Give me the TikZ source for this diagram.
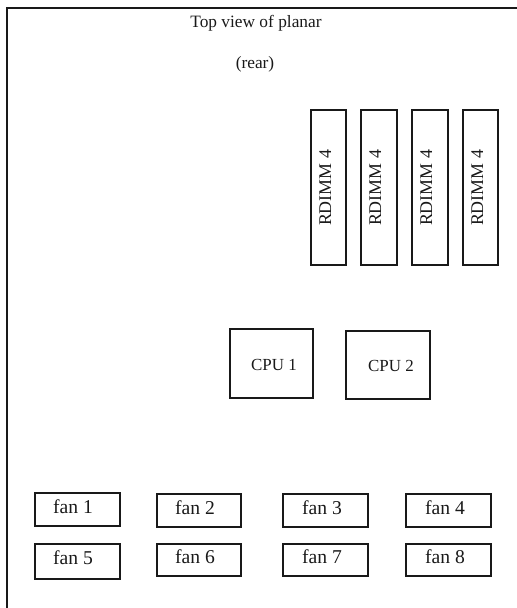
\documentclass[tikz,border=0pt]{standalone}
\usepackage{fontspec}
\setmainfont{Liberation Serif}
\newcommand{\pxbox}[5]{%
  \pgfmathsetmacro{\bw}{(#4-#2)*0.75}\pgfmathsetmacro{\bh}{(#5-#3)*0.75}%
  \node[partbox,minimum width=\bw pt,minimum height=\bh pt] (#1) at ({(#2+#4)/2},{(#3+#5)/2}) {};}
\tikzset{
  partbox/.style={draw=black!90,line width=1.05pt,inner sep=0pt,outer sep=0pt,fill=none},
  frameline/.style={draw=black!90,line width=1.25pt},
  toptext/.style={anchor=base,inner sep=0pt,text=black!90,font=\fontsize{13}{15}\selectfont},
  cputext/.style={anchor=base,inner sep=0pt,text=black!90,font=\fontsize{12.7}{15}\selectfont},
  fantext/.style={anchor=base,inner sep=0pt,text=black!90,font=\fontsize{14.7}{16}\selectfont},
  ramtext/.style={anchor=base,rotate=90,inner sep=0pt,text=black!90,font=\fontsize{13.4}{15}\selectfont},
}
\begin{document}
\begin{tikzpicture}[x=0.75pt,y=-0.75pt]
\useasboundingbox (0,0) rectangle (517,608);
\coordinate (frameB) at (7,608);
\coordinate (frameC) at (7,8);
\coordinate (frameR) at (517,8);
\draw[frameline] (frameB) -- (frameC) -- (frameR);
\node[toptext] (title) at (256,27) {Top view of planar};
\node[toptext] (rear) at (255,68) {(rear)};
\pxbox{r1}{311}{110}{346}{265}
\pxbox{r2}{361}{110}{397}{265}
\pxbox{r3}{412}{110}{448}{265}
\pxbox{r4}{463}{110}{498}{265}
\node[ramtext] (r1t) at (331,188) {RDIMM 4};
\node[ramtext] (r2t) at (381,188) {RDIMM 4};
\node[ramtext] (r3t) at (432,188) {RDIMM 4};
\node[ramtext] (r4t) at (483,188) {RDIMM 4};
\pxbox{c1}{230}{329}{313}{398}
\pxbox{c2}{346}{331}{430}{399}
\node[cputext] (c1t) at (274,370) {CPU 1};
\node[cputext] (c2t) at (391,371) {CPU 2};
\pxbox{f1}{35}{493}{120}{526}
\pxbox{f2}{157}{494}{241}{527}
\pxbox{f3}{283}{494}{368}{527}
\pxbox{f4}{406}{494}{491}{527}
\pxbox{f5}{35}{544}{120}{579}
\pxbox{f6}{157}{544}{241}{576}
\pxbox{f7}{283}{544}{368}{576}
\pxbox{f8}{406}{544}{491}{576}
\node[fantext] (f1t) at (73,513) {fan 1};
\node[fantext] (f2t) at (195,514) {fan 2};
\node[fantext] (f3t) at (322,514) {fan 3};
\node[fantext] (f4t) at (445,514) {fan 4};
\node[fantext] (f5t) at (73,564) {fan 5};
\node[fantext] (f6t) at (195,563) {fan 6};
\node[fantext] (f7t) at (322,563) {fan 7};
\node[fantext] (f8t) at (445,563) {fan 8};
\end{tikzpicture}
\end{document}
